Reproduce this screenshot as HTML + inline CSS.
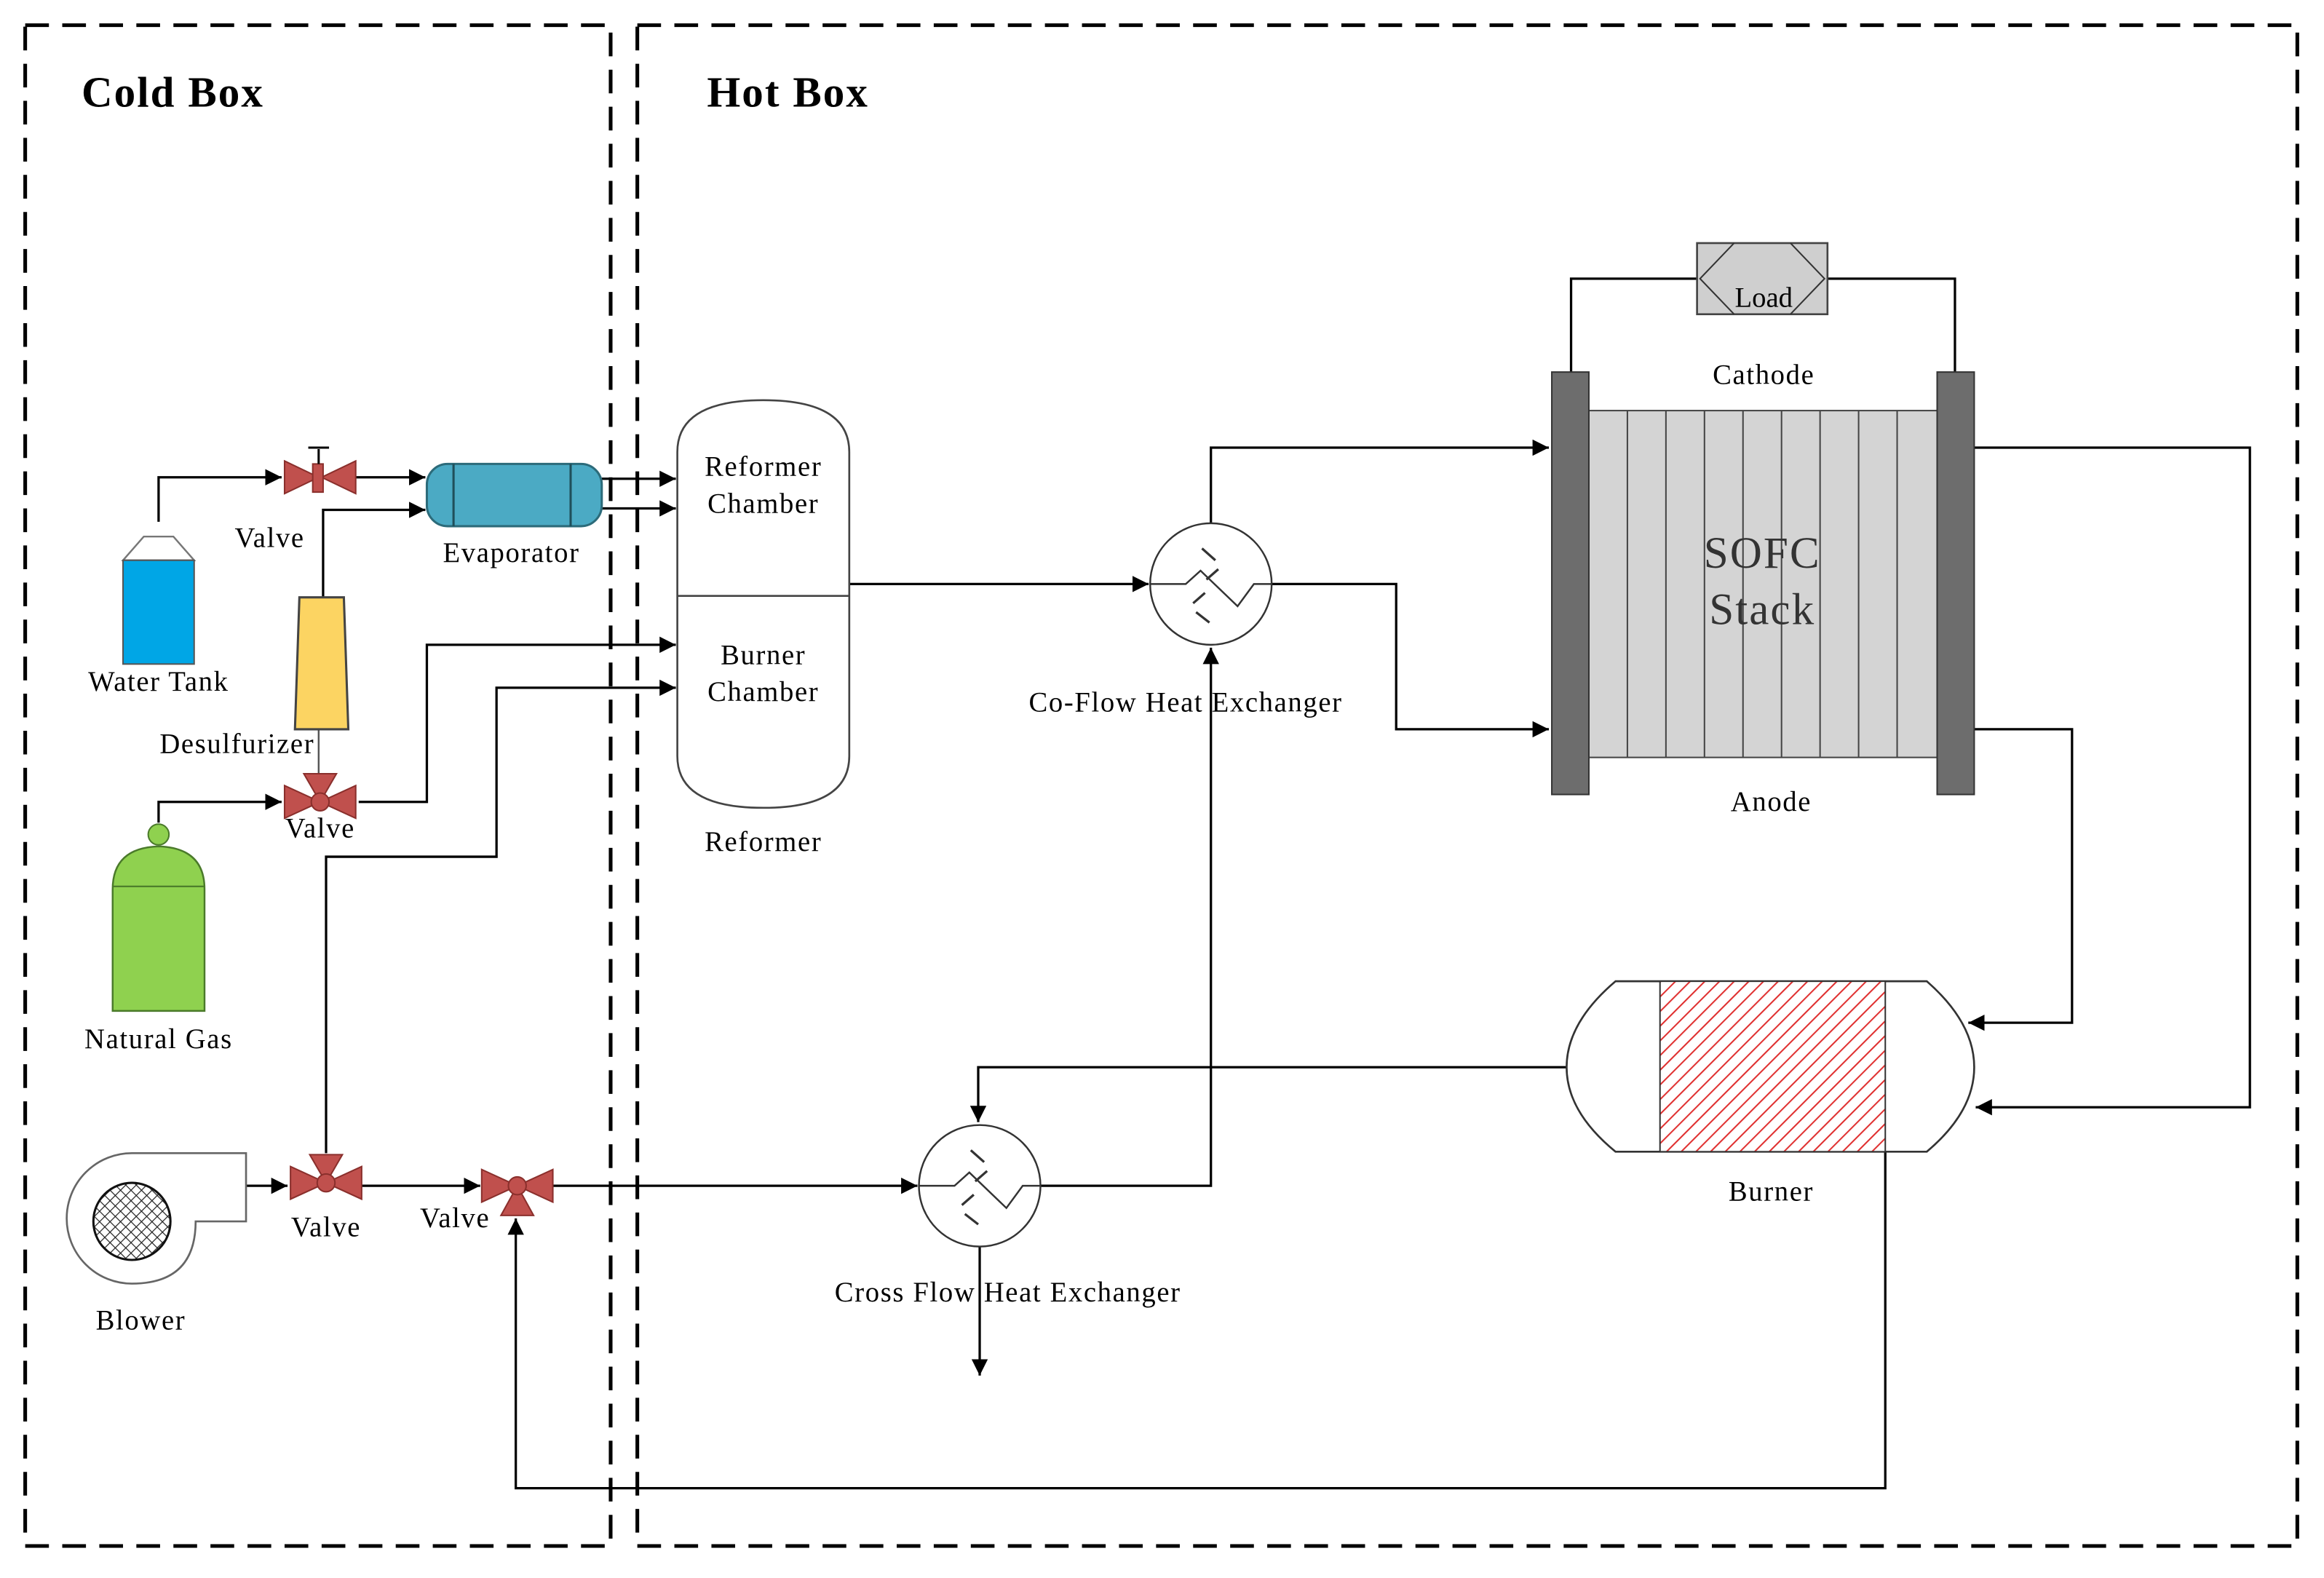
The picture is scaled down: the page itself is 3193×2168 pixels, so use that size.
<!DOCTYPE html>
<html><head><meta charset="utf-8"><style>html,body{margin:0;padding:0;background:#fff}svg{display:block}</style></head>
<body>
<svg width="3193" height="2168" viewBox="0 0 1568 1064.6" preserveAspectRatio="none" xmlns="http://www.w3.org/2000/svg" font-family="'Liberation Serif',serif">
<defs>
<marker id="a" viewBox="0 0 10 10" refX="10" refY="5" markerWidth="11" markerHeight="11" markerUnits="userSpaceOnUse" orient="auto"><path d="M0,0L10,5L0,10z" fill="#000"/></marker>
<pattern id="h" width="7" height="7" patternUnits="userSpaceOnUse" patternTransform="rotate(45)"><rect width="7" height="7" fill="#fff"/><line x1="0" y1="0" x2="0" y2="7" stroke="#e03030" stroke-width="2"/></pattern>
<pattern id="m" width="5" height="5" patternUnits="userSpaceOnUse" patternTransform="rotate(45)"><rect width="5" height="5" fill="#fff"/><path d="M0,0H5M0,0V5" stroke="#222" stroke-width="1.2"/></pattern>
</defs>
<g fill="none" stroke="#000" stroke-width="2.5" stroke-dasharray="16,9">
<rect x="17" y="17" width="395" height="1026"/>
<rect x="430" y="17" width="1120" height="1026"/>
</g>
<g font-weight="bold" font-size="29" letter-spacing="1"><text x="55" y="72">Cold Box</text><text x="477" y="72">Hot Box</text></g>

<g fill="none" stroke="#000" stroke-width="1.6">
<path d="M107,352V322H190" marker-end="url(#a)"/>
<path d="M240,322H287" marker-end="url(#a)"/>
<path d="M218,403V344H287" marker-end="url(#a)"/>
<path d="M215,492V522" stroke="#555" stroke-width="1.2"/>
<path d="M107,555V541H190" marker-end="url(#a)"/>
<path d="M242,541H288V435H456" marker-end="url(#a)"/>
<path d="M220,778V578H335V464H456" marker-end="url(#a)"/>
<path d="M406,323H456" marker-end="url(#a)"/>
<path d="M406,343H456" marker-end="url(#a)"/>
<path d="M573,394H775" marker-end="url(#a)"/>
<path d="M817,353V302H1045" marker-end="url(#a)"/>
<path d="M858,394H942V492H1045" marker-end="url(#a)"/>
<path d="M702,800H817V437" marker-end="url(#a)"/>
<path d="M1060,251V188H1145M1233,188H1319V251"/>
<path d="M1332,302H1518V747H1333" marker-end="url(#a)"/>
<path d="M1332,492H1398V690H1328" marker-end="url(#a)"/>
<path d="M1057,720H660V757" marker-end="url(#a)"/>
<path d="M1272,777V1004H348V822" marker-end="url(#a)"/>
<path d="M661,841V928" marker-end="url(#a)"/>
<path d="M166,800H194" marker-end="url(#a)"/>
<path d="M244,800H324" marker-end="url(#a)"/>
<path d="M373,800H619" marker-end="url(#a)"/>
</g>

<polygon points="83,378 97,362 117,362 131,378" fill="#fff" stroke="#777" stroke-width="1.2"/>
<rect x="83" y="378" width="48" height="70" fill="#00a6e6" stroke="#555" stroke-width="1"/>
<rect x="288" y="313" width="118" height="42" rx="14" fill="#4baac4" stroke="#2c6b7a" stroke-width="1.5"/>
<path d="M306,313V355M385,313V355" stroke="#1f4f5a" stroke-width="1.5"/>
<polygon points="202,403 232,403 235,492 199,492" fill="#fcd462" stroke="#444" stroke-width="1.5"/>
<circle cx="107" cy="563" r="7" fill="#8fd14f" stroke="#4a7a2a"/>
<path d="M76,682V600Q76,572 107,571Q138,572 138,600V682Z" fill="#8fd14f" stroke="#4a7a2a" stroke-width="1.2"/>
<path d="M76,598H138" stroke="#4a7a2a"/>
<g fill="#c0504d" stroke="#8a2f2c" stroke-width="1">
<polygon points="192,311 215,322 192,333"/><polygon points="240,311 217,322 240,333"/>
<rect x="211" y="313" width="7" height="19"/>
<path d="M215,313V303M208,302H222" stroke="#000" stroke-width="1.5" fill="none"/>
<polygon points="192,530 216,541 192,552"/><polygon points="240,530 216,541 240,552"/><polygon points="205,522 227,522 216,541"/><circle cx="216" cy="541" r="6"/>
<polygon points="196,787 220,798 196,809"/><polygon points="244,787 220,798 244,809"/><polygon points="209,779 231,779 220,798"/><circle cx="220" cy="798" r="6"/>
<polygon points="325,789 349,800 325,811"/><polygon points="373,789 349,800 373,811"/><polygon points="338,820 360,820 349,800"/><circle cx="349" cy="800" r="6"/>
</g>
<path d="M89,778H166V824H132Q132,866 89,866A44,44 0 0 1 89,778Z" fill="#fff" stroke="#666" stroke-width="1.3"/>
<ellipse cx="89" cy="824" rx="26" ry="26" fill="url(#m)" stroke="#111" stroke-width="1.5"/>
<path d="M457,305Q457,270 515,270Q573,270 573,305V510Q573,545 515,545Q457,545 457,510Z" fill="#fff" stroke="#444" stroke-width="1.3"/>
<path d="M457,402H573" stroke="#444" stroke-width="1.3"/>
<g fill="none" stroke="#333" stroke-width="1.2">
<circle cx="817" cy="394" r="41"/>
<path d="M776,394H800L810,385L835,409L846,394H858"/>
<path d="M811,370L820,378M822,384L814,391M813,400L805,407M807,413L816,420" stroke-width="1.6"/>
<circle cx="661" cy="800" r="41"/>
<path d="M620,800H644L654,791L679,815L690,800H702"/>
<path d="M655,776L664,784M666,790L658,797M657,806L649,813M651,819L660,826" stroke-width="1.6"/>
</g>
<rect x="1145" y="164" width="88" height="48" fill="#cfcfcf" stroke="#444" stroke-width="1.3"/>
<path d="M1170,164L1147,188L1170,212M1208,164L1231,188L1208,212" fill="none" stroke="#333"/>
<text x="1190" y="207" font-size="19" text-anchor="middle">Load</text>
<rect x="1072" y="277" width="235" height="234" fill="#d4d4d4" stroke="#444"/>
<path d="M1098,277V511M1124,277V511M1150,277V511M1176,277V511M1202,277V511M1228,277V511M1254,277V511M1280,277V511" stroke="#444"/>
<rect x="1047" y="251" width="25" height="285" fill="#6d6d6d" stroke="#333"/>
<rect x="1307" y="251" width="25" height="285" fill="#6d6d6d" stroke="#333"/>
<g font-size="30" fill="#333" text-anchor="middle" letter-spacing="1"><text x="1189" y="383">SOFC</text><text x="1189" y="421">Stack</text></g>
<path d="M1090,662H1300Q1332,690 1332,720Q1332,750 1300,777H1090Q1057,750 1057,720Q1057,690 1090,662Z" fill="#fff" stroke="#333" stroke-width="1.3"/>
<rect x="1120" y="662" width="152" height="115" fill="url(#h)" stroke="#333"/>

<g font-size="19" text-anchor="middle" letter-spacing="0.8">
<text x="182" y="369">Valve</text>
<text x="345" y="379">Evaporator</text>
<text x="107" y="466">Water Tank</text>
<text x="160" y="508">Desulfurizer</text>
<text x="216" y="565">Valve</text>
<text x="107" y="707">Natural Gas</text>
<text x="220" y="834">Valve</text>
<text x="307" y="828">Valve</text>
<text x="95" y="897">Blower</text>
<text x="515" y="321">Reformer</text><text x="515" y="346">Chamber</text>
<text x="515" y="448">Burner</text><text x="515" y="473">Chamber</text>
<text x="515" y="574">Reformer</text>
<text x="800" y="480">Co-Flow Heat Exchanger</text>
<text x="1190" y="259">Cathode</text>
<text x="1195" y="547">Anode</text>
<text x="1195" y="810">Burner</text>
<text x="680" y="878">Cross Flow Heat Exchanger</text>
</g>
</svg>
</body></html>
